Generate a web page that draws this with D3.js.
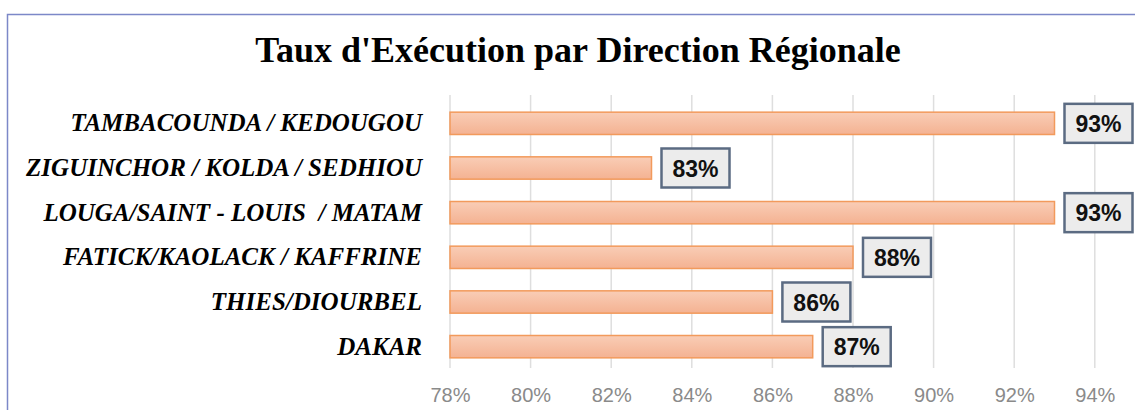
<!DOCTYPE html>
<html>
<head>
<meta charset="utf-8">
<script src="https://cdn.jsdelivr.net/npm/d3@7"></script>
<style>
  body { margin: 0; background: #fff; }
  svg { display: block; }
</style>
</head>
<body>
<svg id="chart"></svg>
<script>
// data
const regions = [
    'TAMBACOUNDA / KEDOUGOU',
    'ZIGUINCHOR / KOLDA / SEDHIOU',
    'LOUGA/SAINT - LOUIS  / MATAM',
    'FATICK/KAOLACK / KAFFRINE',
    'THIES/DIOURBEL',
    'DAKAR'
];
const taux = [93, 83, 93, 88, 86, 87];
const xticks = [78, 80, 82, 84, 86, 88, 90, 92, 94];

const width = 1135, height = 410;
const margin = {top: 101, left: 450, right: 35, bottom: 41};

const svg = d3.select('#chart')
    .attr('width', width)
    .attr('height', height);

// frame
svg.append('rect')
    .attr('x', 7.5).attr('y', 14.5)
    .attr('width', width + 20).attr('height', height + 20)
    .attr('fill', '#fff')
    .attr('stroke', '#7c88c8')
    .attr('stroke-width', 1.5);

const defs = svg.append('defs');
const grad = defs.append('linearGradient')
    .attr('id', 'barGrad')
    .attr('x1', 0).attr('y1', 0).attr('x2', 0).attr('y2', 1);
grad.append('stop').attr('offset', '0%').attr('stop-color', '#f9cdb6');
grad.append('stop').attr('offset', '100%').attr('stop-color', '#f4b292');

svg.append('text')
    .attr('x', 578).attr('y', 62)
    .attr('text-anchor', 'middle')
    .style('font-family', '"Liberation Serif", "Times New Roman", serif')
    .style('font-weight', 'bold')
    .style('font-size', '36px')
    .text("Taux d'Exécution par Direction Régionale");

const xscale = d3.scaleLinear()
    .domain([78, 94])
    .range([margin.left, margin.left + 16 * 40.3]);

const yscale = d3.scaleBand()
    .domain(regions)
    .range([margin.top, height - margin.bottom])
    .paddingInner(0.5)
    .paddingOuter(0.25);

// grid
svg.append('g')
    .selectAll('line')
    .data(xticks)
    .join('line')
    .attr('x1', d => xscale(d)).attr('x2', d => xscale(d))
    .attr('y1', 95).attr('y2', 368)
    .attr('stroke', '#dedede')
    .attr('stroke-width', 1.5);

// x axis labels
const xaxis = d3.axisBottom(xscale)
    .tickValues(xticks)
    .tickFormat(d => d + '%')
    .tickSize(0)
    .tickPadding(0);

const xg = svg.append('g')
    .attr('transform', 'translate(0, 388)')
    .call(xaxis);
xg.select('.domain').remove();
xg.selectAll('text')
    .attr('fill', '#8a8a8a')
    .style('font-family', '"Liberation Sans", Arial, sans-serif')
    .style('font-size', '20px');

// y axis labels
const yaxis = d3.axisLeft(yscale).tickSize(0).tickPadding(28);
const yg = svg.append('g')
    .attr('transform', `translate(${margin.left}, 0)`)
    .call(yaxis);
yg.select('.domain').remove();
yg.selectAll('text')
    .attr('fill', '#000')
    .style('font-family', '"Liberation Serif", "Times New Roman", serif')
    .style('font-style', 'italic')
    .style('font-weight', 'bold')
    .style('font-size', '25px')
    .style('white-space', 'pre');

// bars
const rows = regions.map((r, i) => ({region: r, value: taux[i]}));

svg.append('g')
    .selectAll('rect')
    .data(rows)
    .join('rect')
    .attr('x', xscale(78))
    .attr('y', d => yscale(d.region))
    .attr('width', d => xscale(d.value) - xscale(78))
    .attr('height', yscale.bandwidth())
    .attr('fill', 'url(#barGrad)')
    .attr('stroke', '#f29a5c')
    .attr('stroke-width', 1.5);

// value labels
const lab = svg.append('g')
    .selectAll('g')
    .data(rows)
    .join('g')
    .attr('transform', d => `translate(${xscale(d.value) + 10}, ${yscale(d.region) + yscale.bandwidth() / 2})`);

lab.append('rect')
    .attr('x', 0).attr('y', -19.5)
    .attr('width', 68).attr('height', 39)
    .attr('fill', '#ececec')
    .attr('stroke', '#5b6b82')
    .attr('stroke-width', 2.5);

lab.append('text')
    .attr('x', 34).attr('y', 8.5)
    .attr('text-anchor', 'middle')
    .style('font-family', '"Liberation Sans", Arial, sans-serif')
    .style('font-weight', 'bold')
    .style('font-size', '23px')
    .attr('fill', '#111')
    .text(d => d.value + '%');
</script>
</body>
</html>
